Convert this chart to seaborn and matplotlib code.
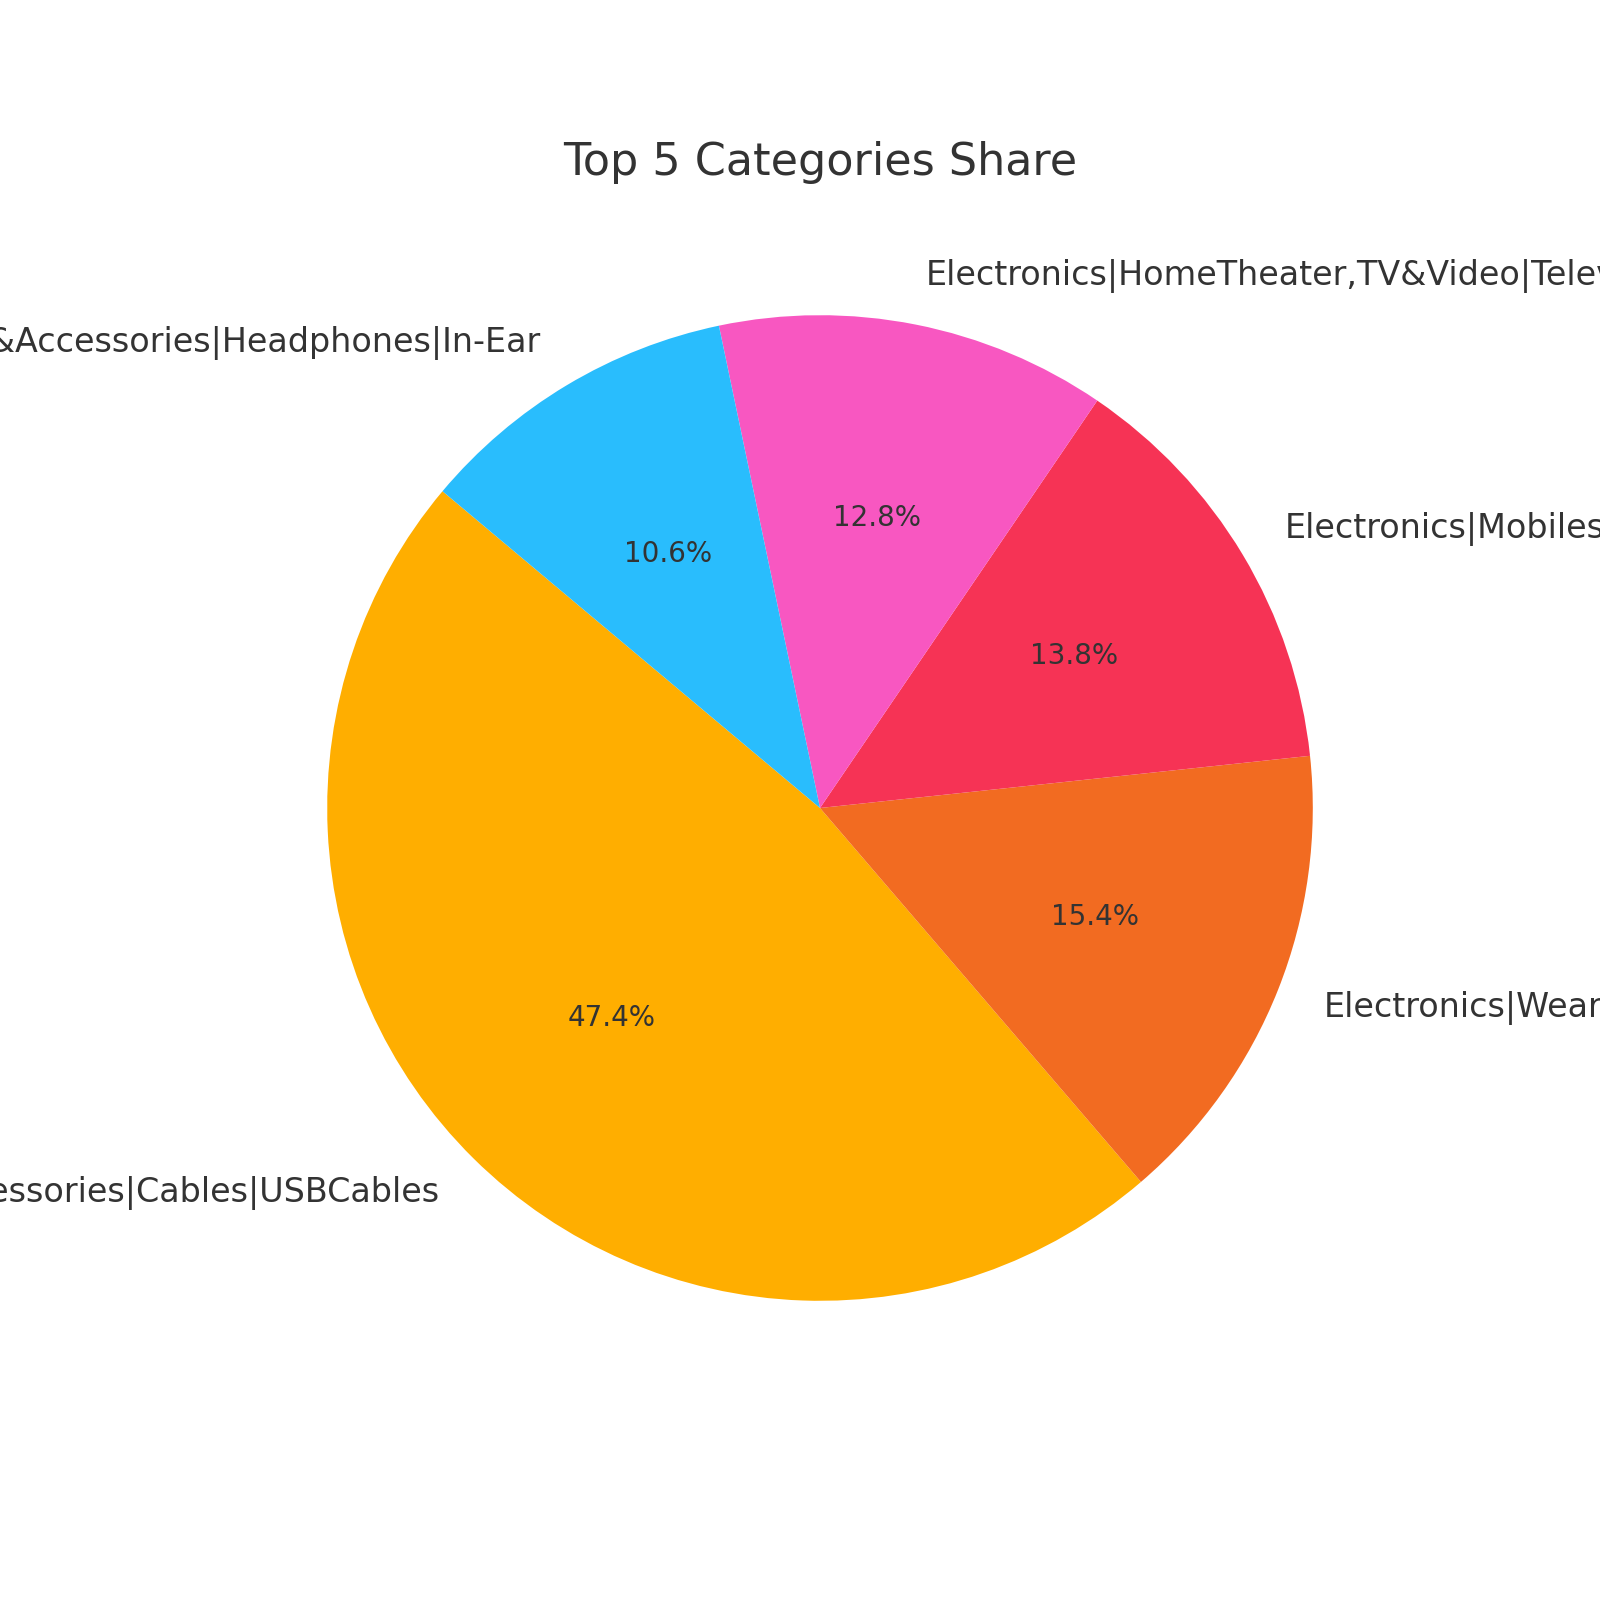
import matplotlib
matplotlib.use("Agg")
import matplotlib.pyplot as plt
import seaborn as sns

categories = [
    "Computers&Accessories|Accessories&Peripherals|Cables&Accessories|Cables|USBCables",
    "Electronics|WearableTechnology|SmartWatches",
    "Electronics|Mobiles&Accessories|Smartphones&BasicMobiles|Smartphones",
    "Electronics|HomeTheater,TV&Video|Televisions|SmartTelevisions",
    "Electronics|Headphones,Earbuds&Accessories|Headphones|In-Ear",
]
shares = [47.4, 15.4, 13.8, 12.8, 10.6]
colors = ["#FFAE00", "#F26B21", "#F63355", "#F857C1", "#29BDFD"]

sns.set_theme(style="white")
plt.rcParams["font.family"] = ["DejaVu Sans"]
plt.rcParams["text.color"] = "#333333"

fig, ax = plt.subplots(figsize=(8, 8), dpi=200)
wedges, texts, autotexts = ax.pie(
    shares,
    labels=categories,
    colors=colors,
    autopct="%1.1f%%",
    startangle=140,
    wedgeprops={"linewidth": 0, "edgecolor": "none"},
    textprops={"fontsize": 12, "color": "#333333"},
)
for t in autotexts:
    t.set_fontsize(10)
ax.set_title("Top 5 Categories Share", fontsize=16, color="#333333")

fig.savefig("out.png", dpi=200)
